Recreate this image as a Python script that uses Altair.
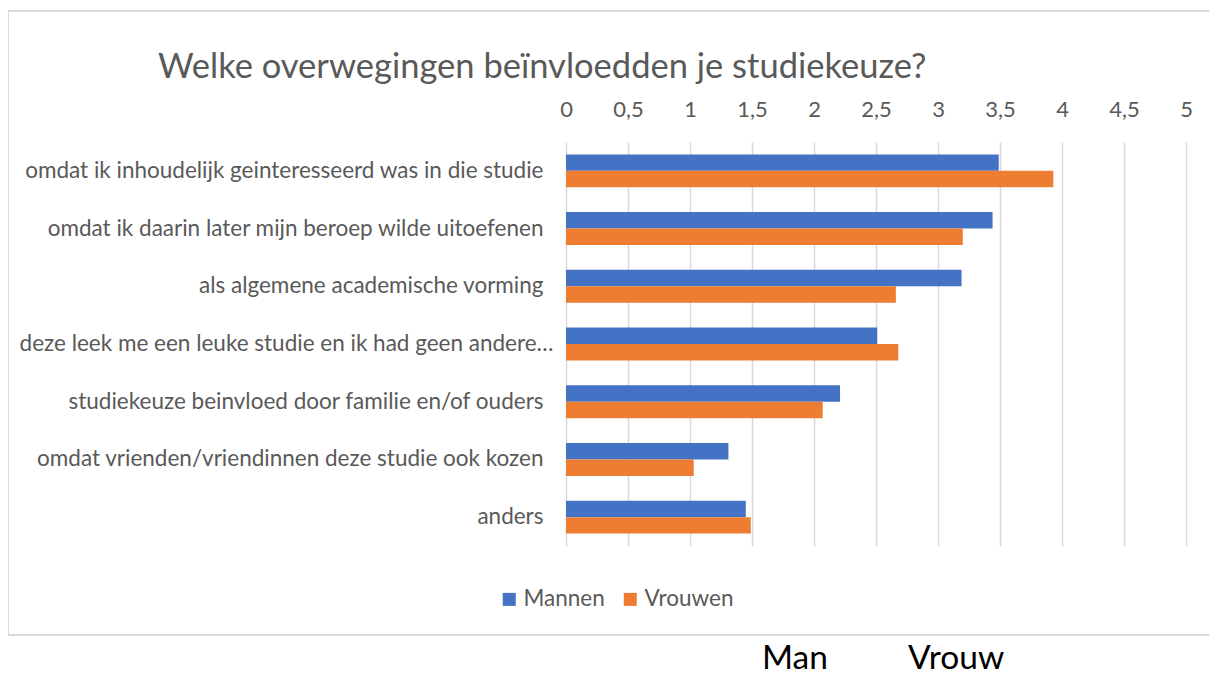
import altair as alt
import pandas as pd

FONT = "Lato"
GREY = "#595959"

title_text = "Welke overwegingen beïnvloedden je studiekeuze?"
categories = [
    "omdat ik inhoudelijk geinteresseerd was in die studie",
    "omdat ik daarin later mijn beroep wilde uitoefenen",
    "als algemene academische vorming",
    "deze leek me een leuke studie en ik had geen andere…",
    "studiekeuze beinvloed door familie en/of ouders",
    "omdat vrienden/vriendinnen deze studie ook kozen",
    "anders",
]
series = ["Mannen", "Vrouwen"]
mannen = [3.49, 3.44, 3.19, 2.51, 2.21, 1.31, 1.45]
vrouwen = [3.93, 3.20, 2.66, 2.68, 2.07, 1.03, 1.49]
tick_values = [0, 0.5, 1, 1.5, 2, 2.5, 3, 3.5, 4, 4.5, 5]
footer_labels = ["Man", "Vrouw"]

rows = []
for c, m, v in zip(categories, mannen, vrouwen):
    rows.append({"categorie": c, "geslacht": series[0], "waarde": m})
    rows.append({"categorie": c, "geslacht": series[1], "waarde": v})
df = pd.DataFrame(rows)

bars = alt.Chart(df).mark_bar().encode(
    y=alt.Y(
        "categorie:N",
        sort=categories,
        scale=alt.Scale(paddingInner=0.43, paddingOuter=0.215),
        axis=alt.Axis(
            title=None, domain=False, ticks=False, labelFont=FONT,
            labelFontSize=22.5, labelColor=GREY, labelLimit=700,
            labelPadding={"condition": {"test": "indexof(datum.value, 'andere') >= 0", "value": 13}, "value": 23},
        ),
    ),
    x=alt.X(
        "waarde:Q",
        scale=alt.Scale(domain=[0, 5], nice=False),
        axis=alt.Axis(
            orient="top", values=tick_values, title=None, domain=False, ticks=False,
            format=".1~f",
            labelExpr="replace(datum.label, '.', ',')", labelFont=FONT,
            labelFontSize=22, labelColor=GREY, labelPadding=21,
            gridColor="#d9d9d9", gridWidth=1.5, labelFlush=False,
        ),
    ),
    yOffset=alt.YOffset("geslacht:N", sort=series),
    color=alt.Color(
        "geslacht:N",
        scale=alt.Scale(domain=series, range=["#4472C4", "#ED7D31"]),
        legend=alt.Legend(
            orient="none", legendX=-68, legendY=446, direction="horizontal",
            title=None, symbolType="square", symbolSize=169, symbolStrokeWidth=0,
            labelFont=FONT, labelFontSize=22.5, labelColor=GREY, labelOffset=3,
            columnPadding=14, padding=0,
        ),
    ),
)

border = alt.Chart(alt.Data(values=[{"a": 1}])).mark_rect(
    filled=False, stroke="#d9d9d9", strokeWidth=2
).encode(
    x=alt.value(-558), x2=alt.value(700), y=alt.value(-131), y2=alt.value(493)
)

title = alt.Chart(alt.Data(values=[{"t": title_text}])).mark_text(
    align="left", baseline="middle", font=FONT, fontSize=34.5, color=GREY
).encode(text="t:N", x=alt.value(-408), y=alt.value(-74))

footer_df = pd.DataFrame({"t": footer_labels, "px": [196, 342]})
footer = alt.Chart(footer_df).mark_text(
    align="left", baseline="alphabetic", font=FONT, fontSize=33.5, color="black"
).encode(text="t:N", x=alt.X("px:Q", scale=None), y=alt.value(527))

chart = alt.layer(border, bars, title, footer).properties(
    width=620, height=404,
    autosize=alt.AutoSizeParams(type="none"),
    padding={"left": 558, "top": 134, "right": 23, "bottom": 129},
).configure_view(stroke=None).resolve_scale(x="independent")

chart.save("out.html", embed_options={"renderer": "svg", "actions": False})
